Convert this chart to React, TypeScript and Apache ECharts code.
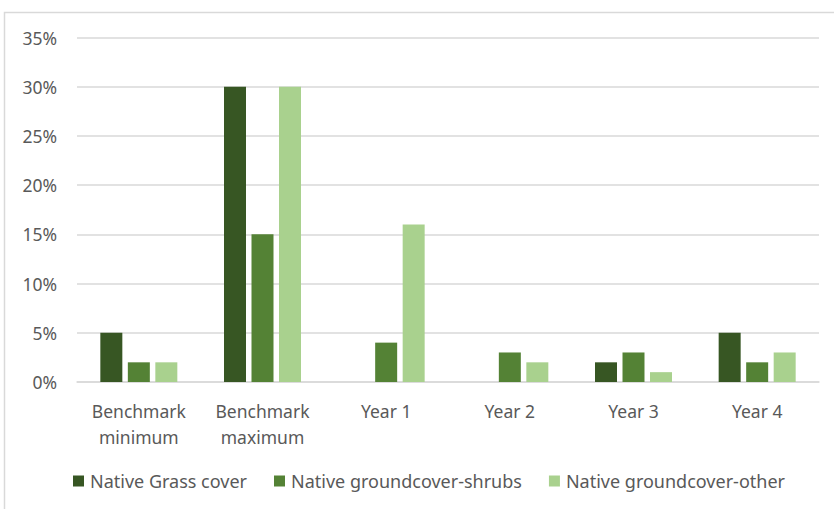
import React, { useEffect, useRef } from "react";
import * as echarts from "echarts";

const categories = ["Benchmark\nminimum", "Benchmark\nmaximum", "Year 1", "Year 2", "Year 3", "Year 4"];
const seriesNames = ["Native Grass cover", "Native groundcover-shrubs", "Native groundcover-other"];
const grassCover = [5, 30, 0, 0, 2, 5];
const shrubsCover = [2, 15, 4, 3, 3, 2];
const otherCover = [2, 30, 16, 2, 1, 3];
const seriesColors = ["#375623", "#548235", "#A9D18E"];

const FONT = "'Noto Sans', 'Liberation Sans', sans-serif";

export default function App() {
  const ref = useRef<HTMLDivElement>(null);

  useEffect(() => {
    if (!ref.current) return;
    const chart = echarts.init(ref.current, null, { renderer: "svg" });
    const values = [grassCover, shrubsCover, otherCover];
    chart.setOption({
      animation: false,
      backgroundColor: "#ffffff",
      graphic: [
        {
          type: "rect",
          shape: { x: 4.5, y: 12.5, width: 900, height: 600 },
          style: { fill: "none", stroke: "#d9d9d9", lineWidth: 1.5 },
          silent: true,
        },
      ],
      grid: { left: 77, right: 15, top: 37.5, bottom: 127, containLabel: false },
      legend: {
        top: 467,
        left: 68,
        itemWidth: 11,
        itemHeight: 11,
        itemGap: 27,
        icon: "rect",
        textStyle: { fontFamily: FONT, fontSize: 18, color: "#595959", padding: [0, 0, 0, 1] },
        data: seriesNames,
      },
      xAxis: {
        type: "category",
        data: categories,
        axisLine: { lineStyle: { color: "#d9d9d9", width: 1.5 } },
        axisTick: { show: false },
        axisLabel: {
          fontFamily: FONT,
          fontSize: 17.5,
          color: "#595959",
          lineHeight: 26,
          margin: 16,
          interval: 0,
        },
      },
      yAxis: {
        type: "value",
        min: 0,
        max: 35,
        interval: 5,
        axisLine: { show: false },
        axisTick: { show: false },
        splitLine: { lineStyle: { color: "#d9d9d9", width: 1.5 } },
        axisLabel: {
          fontFamily: FONT,
          fontSize: 17.5,
          color: "#595959",
          margin: 20,
          formatter: (v: number) => `${v}%`,
        },
      },
      series: seriesNames.map((name, i) => ({
        name,
        type: "bar",
        data: values[i],
        barWidth: 22,
        barGap: "25%",
        itemStyle: { color: seriesColors[i] },
      })),
    });
    return () => chart.dispose();
  }, []);

  return (
    <div
      ref={ref}
      style={{ position: "fixed", left: 0, top: 0, width: 834, height: 509 }}
    />
  );
}
